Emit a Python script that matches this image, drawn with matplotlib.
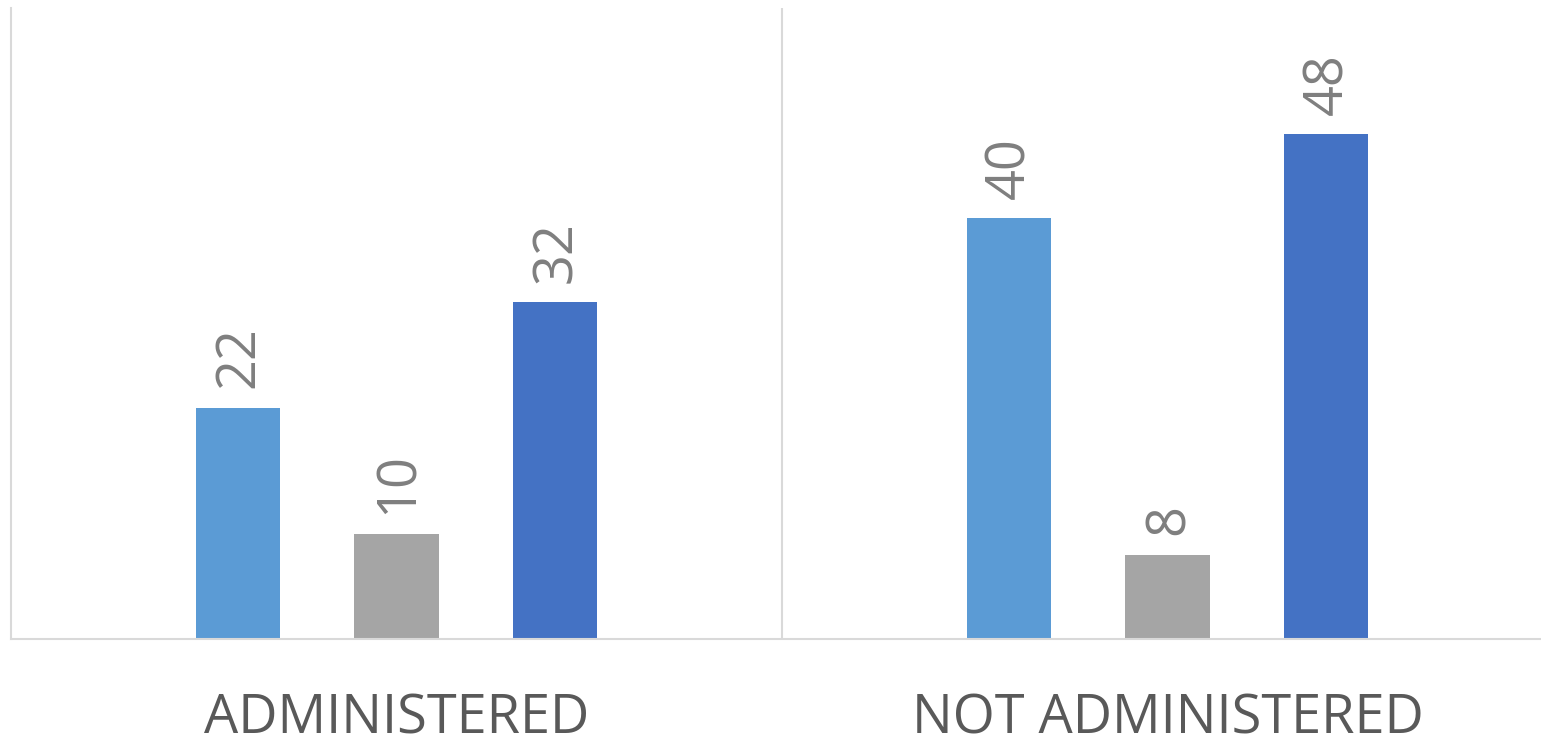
import matplotlib

matplotlib.use("Agg")
import matplotlib.pyplot as plt
import numpy as np

categories = ["ADMINISTERED", "NOT ADMINISTERED"]
series_a = [22, 40]
series_b = [10, 8]
series_c = [32, 48]

colors = ["#5B9BD5", "#A5A5A5", "#4472C4"]
label_fonts = ["Liberation Sans Narrow", "Open Sans", "DejaVu Sans"]

W, H = 1541, 745
fig = plt.figure(figsize=(W / 100, H / 100), dpi=100)
ax = fig.add_axes([11 / W, (H - 639) / H, 1530 / W, 631 / H])

x = np.arange(len(categories))
width = 0.109
step = 0.2056
for offset, values, color in zip((-step, 0, step), (series_a, series_b, series_c), colors):
    bars = ax.bar(x + offset, values, width=width, color=color, zorder=2)
    for bar, value in zip(bars, values):
        ax.annotate(
            str(value),
            (bar.get_x() + bar.get_width() / 2, bar.get_height()),
            xytext=(1, 14),
            textcoords="offset points",
            rotation=90,
            ha="center",
            va="bottom",
            fontsize=39,
            color="#7F7F7F",
            family=label_fonts,
        )

ax.set_xlim(-0.5, -0.5 + 1530 / 771)
ax.set_ylim(0, 60)
ax.axvline(0.5, color="#D9D9D9", linewidth=1.5, zorder=1)

for spine in ("top", "right"):
    ax.spines[spine].set_visible(False)
for spine in ("left", "bottom"):
    ax.spines[spine].set_color("#D9D9D9")
    ax.spines[spine].set_linewidth(1.5)

ax.set_yticks([])
ax.set_xticks(x)
ax.set_xticklabels(categories, fontsize=39, color="#595959", family=["Open Sans", "DejaVu Sans"])
ax.tick_params(axis="x", length=0, pad=38)

fig.savefig("out.png", dpi=100)
plt.close(fig)
